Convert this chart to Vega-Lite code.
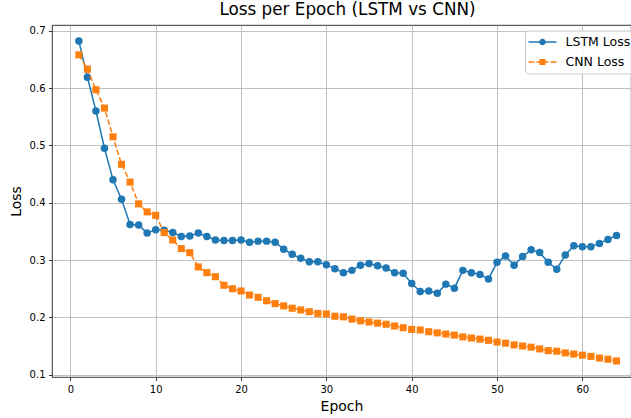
{
  "$schema": "https://vega.github.io/schema/vega-lite/v6.json",
  "width": 579,
  "height": 352,
  "autosize": "none",
  "padding": {"left": 52, "top": 25, "right": 0, "bottom": 41},
  "background": "white",
  "title": {"text": "Loss per Epoch (LSTM vs CNN)", "font": "DejaVu Sans", "fontSize": 16.8, "fontWeight": "normal", "color": "black", "anchor": "middle", "frame": "group", "offset": 6, "dx": 6},
  "config": {
    "view": {"stroke": "black", "strokeWidth": 0.8},
    "axis": {"grid": true, "gridColor": "#b0b0b0", "gridWidth": 0.8, "domain": false, "tickColor": "black", "tickSize": 3.5, "tickWidth": 0.8, "labelFont": "DejaVu Sans", "labelFontSize": 10, "labelColor": "black", "labelPadding": 3.5, "titleFont": "DejaVu Sans", "titleFontSize": 14, "titleFontWeight": "normal", "titleColor": "black"}
  },
  "data": {"values": [
    {"epoch":1,"model":"LSTM Loss","loss":0.682},{"epoch":2,"model":"LSTM Loss","loss":0.619},{"epoch":3,"model":"LSTM Loss","loss":0.560},{"epoch":4,"model":"LSTM Loss","loss":0.495},{"epoch":5,"model":"LSTM Loss","loss":0.440},{"epoch":6,"model":"LSTM Loss","loss":0.406},{"epoch":7,"model":"LSTM Loss","loss":0.362},{"epoch":8,"model":"LSTM Loss","loss":0.361},{"epoch":9,"model":"LSTM Loss","loss":0.347},{"epoch":10,"model":"LSTM Loss","loss":0.353},
    {"epoch":11,"model":"LSTM Loss","loss":0.352},{"epoch":12,"model":"LSTM Loss","loss":0.348},{"epoch":13,"model":"LSTM Loss","loss":0.341},{"epoch":14,"model":"LSTM Loss","loss":0.342},{"epoch":15,"model":"LSTM Loss","loss":0.347},{"epoch":16,"model":"LSTM Loss","loss":0.341},{"epoch":17,"model":"LSTM Loss","loss":0.335},{"epoch":18,"model":"LSTM Loss","loss":0.334},{"epoch":19,"model":"LSTM Loss","loss":0.334},{"epoch":20,"model":"LSTM Loss","loss":0.335},
    {"epoch":21,"model":"LSTM Loss","loss":0.331},{"epoch":22,"model":"LSTM Loss","loss":0.333},{"epoch":23,"model":"LSTM Loss","loss":0.333},{"epoch":24,"model":"LSTM Loss","loss":0.331},{"epoch":25,"model":"LSTM Loss","loss":0.319},{"epoch":26,"model":"LSTM Loss","loss":0.310},{"epoch":27,"model":"LSTM Loss","loss":0.303},{"epoch":28,"model":"LSTM Loss","loss":0.297},{"epoch":29,"model":"LSTM Loss","loss":0.297},{"epoch":30,"model":"LSTM Loss","loss":0.292},
    {"epoch":31,"model":"LSTM Loss","loss":0.285},{"epoch":32,"model":"LSTM Loss","loss":0.278},{"epoch":33,"model":"LSTM Loss","loss":0.282},{"epoch":34,"model":"LSTM Loss","loss":0.291},{"epoch":35,"model":"LSTM Loss","loss":0.294},{"epoch":36,"model":"LSTM Loss","loss":0.290},{"epoch":37,"model":"LSTM Loss","loss":0.286},{"epoch":38,"model":"LSTM Loss","loss":0.278},{"epoch":39,"model":"LSTM Loss","loss":0.277},{"epoch":40,"model":"LSTM Loss","loss":0.259},
    {"epoch":41,"model":"LSTM Loss","loss":0.245},{"epoch":42,"model":"LSTM Loss","loss":0.246},{"epoch":43,"model":"LSTM Loss","loss":0.242},{"epoch":44,"model":"LSTM Loss","loss":0.258},{"epoch":45,"model":"LSTM Loss","loss":0.251},{"epoch":46,"model":"LSTM Loss","loss":0.282},{"epoch":47,"model":"LSTM Loss","loss":0.278},{"epoch":48,"model":"LSTM Loss","loss":0.275},{"epoch":49,"model":"LSTM Loss","loss":0.267},{"epoch":50,"model":"LSTM Loss","loss":0.296},
    {"epoch":51,"model":"LSTM Loss","loss":0.307},{"epoch":52,"model":"LSTM Loss","loss":0.291},{"epoch":53,"model":"LSTM Loss","loss":0.306},{"epoch":54,"model":"LSTM Loss","loss":0.318},{"epoch":55,"model":"LSTM Loss","loss":0.313},{"epoch":56,"model":"LSTM Loss","loss":0.296},{"epoch":57,"model":"LSTM Loss","loss":0.284},{"epoch":58,"model":"LSTM Loss","loss":0.309},{"epoch":59,"model":"LSTM Loss","loss":0.325},{"epoch":60,"model":"LSTM Loss","loss":0.323},
    {"epoch":61,"model":"LSTM Loss","loss":0.323},{"epoch":62,"model":"LSTM Loss","loss":0.329},{"epoch":63,"model":"LSTM Loss","loss":0.336},{"epoch":64,"model":"LSTM Loss","loss":0.343},
    {"epoch":1,"model":"CNN Loss","loss":0.658},{"epoch":2,"model":"CNN Loss","loss":0.633},{"epoch":3,"model":"CNN Loss","loss":0.597},{"epoch":4,"model":"CNN Loss","loss":0.565},{"epoch":5,"model":"CNN Loss","loss":0.515},{"epoch":6,"model":"CNN Loss","loss":0.467},{"epoch":7,"model":"CNN Loss","loss":0.436},{"epoch":8,"model":"CNN Loss","loss":0.398},{"epoch":9,"model":"CNN Loss","loss":0.384},{"epoch":10,"model":"CNN Loss","loss":0.378},
    {"epoch":11,"model":"CNN Loss","loss":0.348},{"epoch":12,"model":"CNN Loss","loss":0.335},{"epoch":13,"model":"CNN Loss","loss":0.320},{"epoch":14,"model":"CNN Loss","loss":0.313},{"epoch":15,"model":"CNN Loss","loss":0.288},{"epoch":16,"model":"CNN Loss","loss":0.278},{"epoch":17,"model":"CNN Loss","loss":0.271},{"epoch":18,"model":"CNN Loss","loss":0.256},{"epoch":19,"model":"CNN Loss","loss":0.250},{"epoch":20,"model":"CNN Loss","loss":0.246},
    {"epoch":21,"model":"CNN Loss","loss":0.239},{"epoch":22,"model":"CNN Loss","loss":0.235},{"epoch":23,"model":"CNN Loss","loss":0.229},{"epoch":24,"model":"CNN Loss","loss":0.224},{"epoch":25,"model":"CNN Loss","loss":0.220},{"epoch":26,"model":"CNN Loss","loss":0.216},{"epoch":27,"model":"CNN Loss","loss":0.213},{"epoch":28,"model":"CNN Loss","loss":0.210},{"epoch":29,"model":"CNN Loss","loss":0.207},{"epoch":30,"model":"CNN Loss","loss":0.206},
    {"epoch":31,"model":"CNN Loss","loss":0.202},{"epoch":32,"model":"CNN Loss","loss":0.201},{"epoch":33,"model":"CNN Loss","loss":0.197},{"epoch":34,"model":"CNN Loss","loss":0.194},{"epoch":35,"model":"CNN Loss","loss":0.192},{"epoch":36,"model":"CNN Loss","loss":0.190},{"epoch":37,"model":"CNN Loss","loss":0.188},{"epoch":38,"model":"CNN Loss","loss":0.185},{"epoch":39,"model":"CNN Loss","loss":0.182},{"epoch":40,"model":"CNN Loss","loss":0.179},
    {"epoch":41,"model":"CNN Loss","loss":0.178},{"epoch":42,"model":"CNN Loss","loss":0.175},{"epoch":43,"model":"CNN Loss","loss":0.173},{"epoch":44,"model":"CNN Loss","loss":0.171},{"epoch":45,"model":"CNN Loss","loss":0.169},{"epoch":46,"model":"CNN Loss","loss":0.166},{"epoch":47,"model":"CNN Loss","loss":0.164},{"epoch":48,"model":"CNN Loss","loss":0.162},{"epoch":49,"model":"CNN Loss","loss":0.160},{"epoch":50,"model":"CNN Loss","loss":0.157},
    {"epoch":51,"model":"CNN Loss","loss":0.155},{"epoch":52,"model":"CNN Loss","loss":0.152},{"epoch":53,"model":"CNN Loss","loss":0.150},{"epoch":54,"model":"CNN Loss","loss":0.148},{"epoch":55,"model":"CNN Loss","loss":0.145},{"epoch":56,"model":"CNN Loss","loss":0.142},{"epoch":57,"model":"CNN Loss","loss":0.141},{"epoch":58,"model":"CNN Loss","loss":0.138},{"epoch":59,"model":"CNN Loss","loss":0.136},{"epoch":60,"model":"CNN Loss","loss":0.134},
    {"epoch":61,"model":"CNN Loss","loss":0.132},{"epoch":62,"model":"CNN Loss","loss":0.129},{"epoch":63,"model":"CNN Loss","loss":0.127},{"epoch":64,"model":"CNN Loss","loss":0.124}
  ]},
  "encoding": {
    "x": {"field": "epoch", "type": "quantitative", "scale": {"domain": [-2.15, 65.7], "nice": false, "zero": false}, "axis": {"values": [0,10,20,30,40,50,60], "title": "Epoch", "titlePadding": 5}},
    "y": {"field": "loss", "type": "quantitative", "scale": {"domain": [0.096, 0.71], "nice": false, "zero": false}, "axis": {"values": [0.1,0.2,0.3,0.4,0.5,0.6,0.7], "format": ".1f", "title": "Loss", "titlePadding": 6}},
    "color": {"field": "model", "type": "nominal", "scale": {"domain": ["LSTM Loss", "CNN Loss"], "range": ["#1f77b4", "#ff7f0e"]},
      "legend": {"orient": "none", "legendX": 473, "legendY": 5.5, "title": null, "labelFont": "DejaVu Sans", "labelFontSize": 12.5, "labelColor": "black", "symbolSize": 196, "symbolStrokeWidth": 1.5, "symbolOffset": 8, "padding": 1.5, "rowPadding": 0, "clipHeight": 20, "labelOffset": 15, "strokeColor": "#cccccc", "fillColor": "rgba(255,255,255,0.8)", "cornerRadius": 3,
        "encode": {"symbols": {"update": {
          "shape": {"signal": "datum.value === 'LSTM Loss' ? 'M-2,0H2M0.357,0A0.357,0.357,0,1,1,-0.357,0A0.357,0.357,0,1,1,0.357,0Z' : 'M-2,0H-1.143M-0.857,0H-0.286M0.286,0H0.857M1.143,0H2M-0.33,-0.33H0.33V0.33H-0.33Z'"},
          "fill": {"signal": "datum.value === 'LSTM Loss' ? '#1f77b4' : '#ff7f0e'"},
          "stroke": {"signal": "datum.value === 'LSTM Loss' ? '#1f77b4' : '#ff7f0e'"},
          "strokeDash": {"value": []},
          "strokeWidth": {"value": 1.5},
          "fillOpacity": {"value": 1},
          "opacity": {"value": 1}
        }}}
      }
    }
  },
  "layer": [
    {"transform": [{"filter": "datum.model === 'LSTM Loss'"}], "mark": {"type": "line", "strokeWidth": 1.5}},
    {"transform": [{"filter": "datum.model === 'LSTM Loss'"}], "mark": {"type": "point", "shape": "circle", "filled": true, "size": 56, "opacity": 1}},
    {"transform": [{"filter": "datum.model === 'CNN Loss'"}], "mark": {"type": "line", "strokeWidth": 1.5, "strokeDash": [5.5, 2.4]}},
    {"transform": [{"filter": "datum.model === 'CNN Loss'"}], "mark": {"type": "point", "shape": "square", "filled": true, "size": 50, "opacity": 1}}
  ]
}
